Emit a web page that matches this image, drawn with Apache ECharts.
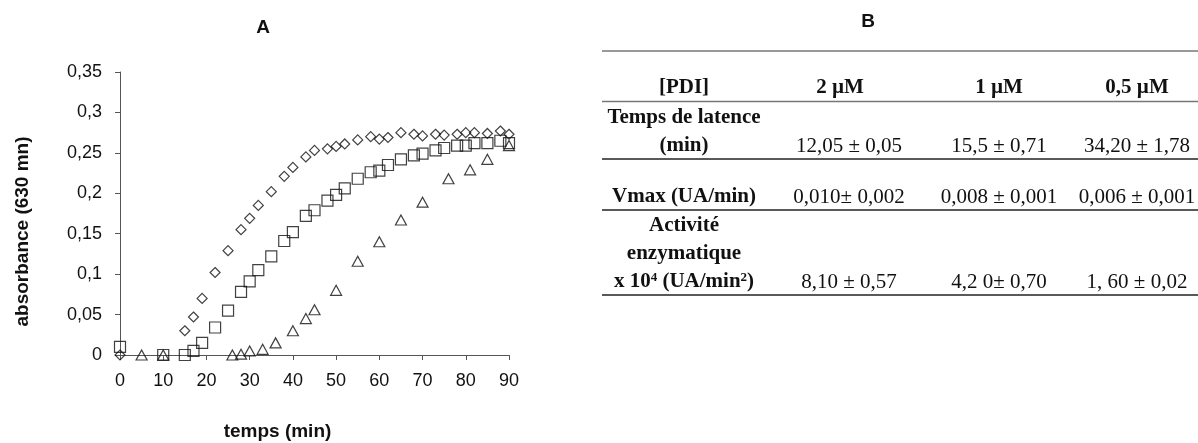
<!DOCTYPE html>
<html>
<head>
<meta charset="utf-8">
<script src="https://cdn.jsdelivr.net/npm/echarts@6/dist/echarts.min.js"></script>
<style>
  body { margin: 0; background: #fff; }
  #main { width: 1198px; height: 443px; }
</style>
</head>
<body>
<div id="main"></div>
<script>
// A : absorbance vs temps, 3 concentrations de PDI
var time2uM = [0, 15, 17, 19, 22, 25, 28, 30, 32, 35, 38, 40, 43, 45, 48, 50, 52, 55, 58, 60, 62, 65, 68, 70, 73, 75, 78, 80, 82, 85, 88, 90];
var abs2uM = [0, 0.030, 0.047, 0.070, 0.102, 0.129, 0.155, 0.169, 0.185, 0.202, 0.221, 0.232, 0.245, 0.253, 0.255, 0.258, 0.261, 0.266, 0.270, 0.267, 0.269, 0.275, 0.273, 0.271, 0.273, 0.272, 0.273, 0.275, 0.275, 0.274, 0.277, 0.273];

var time1uM = [0, 10, 15, 17, 19, 22, 25, 28, 30, 32, 35, 38, 40, 43, 45, 48, 50, 52, 55, 58, 60, 62, 65, 68, 70, 73, 75, 78, 80, 82, 85, 88, 90];
var abs1uM = [0.010, 0, 0, 0.005, 0.015, 0.034, 0.055, 0.078, 0.091, 0.105, 0.122, 0.141, 0.152, 0.172, 0.179, 0.191, 0.198, 0.206, 0.218, 0.226, 0.228, 0.235, 0.242, 0.247, 0.249, 0.253, 0.256, 0.259, 0.259, 0.262, 0.262, 0.265, 0.262];

var time05uM = [5, 10, 26, 28, 30, 33, 36, 40, 43, 45, 50, 55, 60, 65, 70, 76, 81, 85, 90];
var abs05uM = [0, 0, 0, 0.001, 0.005, 0.007, 0.015, 0.030, 0.045, 0.056, 0.080, 0.116, 0.140, 0.167, 0.189, 0.218, 0.229, 0.242, 0.259];

var yTickLabels = ['0', '0,05', '0,1', '0,15', '0,2', '0,25', '0,3', '0,35'];
var xTickLabels = ['0', '10', '20', '30', '40', '50', '60', '70', '80', '90'];

// B : tableau
var colHeaders = ['[PDI]', '2 µM', '1 µM', '0,5 µM'];
var latence = ['12,05 ± 0,05', '15,5 ± 0,71', '34,20 ± 1,78'];
var vmax = ['0,010± 0,002', '0,008 ± 0,001', '0,006 ± 0,001'];
var activite = ['8,10 ± 0,57', '4,2 0± 0,70', '1, 60 ± 0,02'];

function zip(xs, ys) {
  return xs.map(function (x, i) { return [x, ys[i]]; });
}

var SANS = 'Liberation Sans, Arial, sans-serif';
var SERIF = 'Liberation Serif, Times New Roman, serif';
var markStyle = { color: 'transparent', borderColor: '#111', borderWidth: 1.2 };

// colonnes du tableau
var colX = [684, 840, 999, 1137];
var valX = [849, 999, 1137];

var graphics = [];
function hline(y, color) {
  graphics.push({
    type: 'line', shape: { x1: 602, y1: y, x2: 1198, y2: y },
    style: { stroke: color, lineWidth: 1.5 }
  });
}
function txt(x, y, text, bold, extra) {
  var st = {
    x: x, y: y, text: text, fill: '#111',
    font: (bold ? 'bold ' : '') + '21px ' + SERIF,
    align: 'center', verticalAlign: 'middle'
  };
  if (extra) { for (var k in extra) st[k] = extra[k]; }
  graphics.push({ type: 'text', style: st });
}

hline(51, '#777');
hline(101.5, '#777');
hline(159, '#222');
hline(210, '#222');
hline(295, '#222');

colHeaders.forEach(function (h, i) { txt(colX[i], 88, h, true); });

txt(colX[0], 118, 'Temps de latence', true);
txt(colX[0], 146, '(min)', true);
txt(colX[0], 197, 'Vmax (UA/min)', true);
txt(colX[0], 226, 'Activité', true);
txt(colX[0], 254, 'enzymatique', true);
txt(colX[0], 282, '{a|x 10}{s|4}{a| (UA/min}{s|2}{a|)}', true, {
  rich: {
    a: { font: 'bold 21px ' + SERIF, fill: '#111' },
    s: { font: 'bold 13px ' + SERIF, fill: '#111', verticalAlign: 'top' }
  }
});

latence.forEach(function (v, i) { txt(valX[i], 146, v, false); });
vmax.forEach(function (v, i) { txt(valX[i], 197, v, false); });
activite.forEach(function (v, i) { txt(valX[i], 282, v, false); });

var chart = echarts.init(document.getElementById('main'));

var option = {
  animation: false,
  backgroundColor: '#fff',
  title: [
    { text: 'A', left: 258, top: 13, textAlign: 'center',
      textStyle: { fontFamily: SANS, fontSize: 19, fontWeight: 'bold', color: '#111' } },
    { text: 'B', left: 863, top: 7, textAlign: 'center',
      textStyle: { fontFamily: SANS, fontSize: 19, fontWeight: 'bold', color: '#111' } }
  ],
  grid: {
    left: 120, right: 689, top: 72, bottom: 88,
    outerBoundsMode: 'none'
  },
  xAxis: {
    type: 'value',
    min: 0, max: 90, interval: 10,
    name: 'temps (min)',
    nameLocation: 'middle',
    nameGap: 67,
    nameTextStyle: { fontFamily: SANS, fontSize: 19, fontWeight: 'bold', color: '#111', padding: [0, 74, 0, 0] },
    axisLine: { lineStyle: { color: '#555', width: 1 } },
    axisTick: { show: true, length: 5, lineStyle: { color: '#555' } },
    axisLabel: {
      fontFamily: SANS, fontSize: 18, color: '#111', margin: 17,
      formatter: function (v, i) { return xTickLabels[i]; }
    },
    splitLine: { show: false }
  },
  yAxis: {
    type: 'value',
    min: 0, max: 0.35, interval: 0.05,
    name: 'absorbance (630 mn)',
    nameLocation: 'middle',
    nameGap: 88,
    nameRotate: 90,
    nameTextStyle: { fontFamily: SANS, fontSize: 19, fontWeight: 'bold', color: '#111', padding: [0, 36, 0, 0] },
    axisLine: { show: true, lineStyle: { color: '#555', width: 1 } },
    axisTick: { show: true, length: 5, lineStyle: { color: '#555' } },
    axisLabel: {
      fontFamily: SANS, fontSize: 18, color: '#111', margin: 18,
      formatter: function (v, i) { return yTickLabels[i]; }
    },
    splitLine: { show: false }
  },
  series: [
    { name: '2 µM', type: 'scatter', clip: false, symbol: 'diamond', symbolSize: [10, 10],
      itemStyle: markStyle, data: zip(time2uM, abs2uM) },
    { name: '1 µM', type: 'scatter', clip: false, symbol: 'rect', symbolSize: 11,
      itemStyle: markStyle, data: zip(time1uM, abs1uM) },
    { name: '0,5 µM', type: 'scatter', clip: false, symbol: 'triangle', symbolSize: [11, 10],
      itemStyle: markStyle, data: zip(time05uM, abs05uM) }
  ],
  graphic: graphics
};

chart.setOption(option);
</script>
</body>
</html>
